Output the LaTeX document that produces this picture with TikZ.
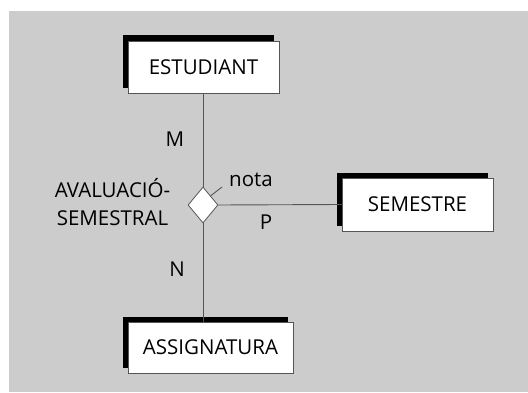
\documentclass[tikz,border=0pt]{standalone}
\usepackage{fontspec}
\setmainfont{Open Sans}
\usepackage{xcolor}
\usetikzlibrary{positioning,shapes.geometric,shadows}
\definecolor{panel}{HTML}{CCCCCC}
\definecolor{edge}{HTML}{555555}
\tikzset{
  ent/.style={draw=edge,line width=0.8pt,fill=white,inner sep=0pt,
              font=\fontsize{20.5}{24}\selectfont,
              general shadow={shadow xshift=-5.5pt,shadow yshift=5.5pt,fill=black}},
  rel/.style={diamond,draw=edge,line width=0.8pt,fill=white,inner sep=0pt,
              minimum width=30pt,minimum height=36pt},
  lbl/.style={font=\fontsize{20.5}{28}\selectfont,inner sep=0pt,align=center},
  lnk/.style={edge,line width=0.9pt},
}
\begin{document}
\begin{tikzpicture}[x=1pt,y=1pt]
\useasboundingbox[fill=white] (0,0) rectangle (528,392);
\fill[panel] (9,0) rectangle (528,381);
% entities
\node[ent,minimum width=151pt,minimum height=52pt] (est) at (203.5,325) {ESTUDIANT};
\node[ent,minimum width=151pt,minimum height=53pt] (sem) at (417.5,187.5) {SEMESTRE};
\node[ent,minimum width=165pt,minimum height=51pt] (asg) at (210.5,44.5) {ASSIGNATURA};
% relationship
\node[rel] (ava) at (203,187) {};
\draw[lnk] (est.south -| ava.north) -- (ava.north);
\draw[lnk] (ava.south) -- (ava.south |- asg.north);
\draw[lnk] (ava.east) -- (sem.west);
\coordinate (natt) at (222,205);
\draw[lnk] (ava.north east) -- (natt);
% labels
\node[lbl] (nota) at (251,212) {nota};
\node[lbl] (m) at (175,253) {M};
\node[lbl] (n) at (177,123) {N};
\node[lbl] (p) at (266,170) {P};
\node[lbl] (avn) at (112.5,190) {AVALUACIÓ-\\SEMESTRAL};
\end{tikzpicture}
\end{document}
